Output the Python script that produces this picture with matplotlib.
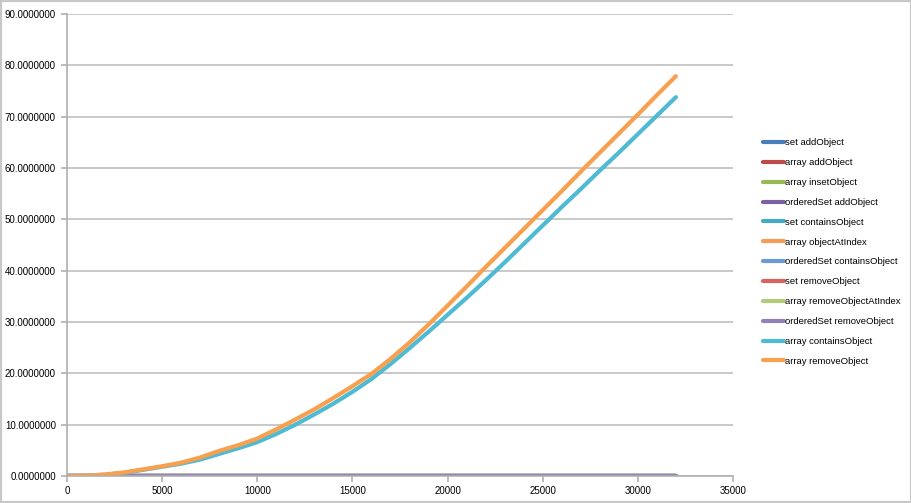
import matplotlib.pyplot as plt
from matplotlib.patches import Rectangle
from matplotlib.ticker import FormatStrFormatter

plt.rcParams['font.family'] = ['Liberation Sans', 'DejaVu Sans']

# element counts (x axis)
sizes = [0, 1000, 2000, 3000, 4000, 5000, 6000, 7000, 8000, 9000, 10000,
         11000, 12000, 13000, 14000, 15000, 16000, 17000, 18000, 19000, 20000,
         21000, 22000, 23000, 24000, 25000, 26000, 27000, 28000, 29000, 30000,
         31000, 32000]

# timings; everything except the last two stays at ~0
set_add = [0.00, 0.00, 0.00, 0.00, 0.00, 0.00, 0.00, 0.00, 0.00, 0.00, 0.00, 0.00, 0.00, 0.00, 0.00, 0.00, 0.00, 0.00, 0.00, 0.00, 0.00, 0.00, 0.00, 0.00, 0.00, 0.00, 0.00, 0.00, 0.00, 0.00, 0.00, 0.00, 0.00]
array_add = [0.00, 0.00, 0.00, 0.00, 0.00, 0.00, 0.00, 0.00, 0.00, 0.00, 0.00, 0.00, 0.00, 0.00, 0.00, 0.00, 0.00, 0.00, 0.00, 0.00, 0.00, 0.00, 0.00, 0.00, 0.00, 0.00, 0.00, 0.00, 0.00, 0.00, 0.00, 0.00, 0.00]
array_insert = [0.00, 0.00, 0.00, 0.00, 0.00, 0.00, 0.00, 0.00, 0.00, 0.00, 0.00, 0.00, 0.00, 0.00, 0.00, 0.00, 0.00, 0.00, 0.00, 0.00, 0.00, 0.00, 0.00, 0.00, 0.00, 0.00, 0.00, 0.00, 0.00, 0.00, 0.00, 0.00, 0.00]
oset_add = [0.00, 0.00, 0.00, 0.00, 0.00, 0.00, 0.00, 0.00, 0.00, 0.00, 0.00, 0.00, 0.00, 0.00, 0.00, 0.00, 0.00, 0.00, 0.00, 0.00, 0.00, 0.00, 0.00, 0.00, 0.00, 0.00, 0.00, 0.00, 0.00, 0.00, 0.00, 0.00, 0.00]
set_contains = [0.00, 0.00, 0.00, 0.00, 0.00, 0.00, 0.00, 0.00, 0.00, 0.00, 0.00, 0.00, 0.00, 0.00, 0.00, 0.00, 0.00, 0.00, 0.00, 0.00, 0.00, 0.00, 0.00, 0.00, 0.00, 0.00, 0.00, 0.00, 0.00, 0.00, 0.00, 0.00, 0.00]
array_at_index = [0.00, 0.00, 0.00, 0.00, 0.00, 0.00, 0.00, 0.00, 0.00, 0.00, 0.00, 0.00, 0.00, 0.00, 0.00, 0.00, 0.00, 0.00, 0.00, 0.00, 0.00, 0.00, 0.00, 0.00, 0.00, 0.00, 0.00, 0.00, 0.00, 0.00, 0.00, 0.00, 0.00]
oset_contains = [0.00, 0.00, 0.00, 0.00, 0.00, 0.00, 0.00, 0.00, 0.00, 0.00, 0.00, 0.00, 0.00, 0.00, 0.00, 0.00, 0.00, 0.00, 0.00, 0.00, 0.00, 0.00, 0.00, 0.00, 0.00, 0.00, 0.00, 0.00, 0.00, 0.00, 0.00, 0.00, 0.00]
set_remove = [0.00, 0.00, 0.00, 0.00, 0.00, 0.00, 0.00, 0.00, 0.00, 0.00, 0.00, 0.00, 0.00, 0.00, 0.00, 0.00, 0.00, 0.00, 0.00, 0.00, 0.00, 0.00, 0.00, 0.00, 0.00, 0.00, 0.00, 0.00, 0.00, 0.00, 0.00, 0.00, 0.00]
array_remove_at = [0.00, 0.00, 0.00, 0.00, 0.00, 0.00, 0.00, 0.00, 0.00, 0.00, 0.00, 0.00, 0.00, 0.00, 0.00, 0.00, 0.00, 0.00, 0.00, 0.00, 0.00, 0.00, 0.00, 0.00, 0.00, 0.00, 0.00, 0.00, 0.00, 0.00, 0.00, 0.00, 0.00]
oset_remove = [0.00, 0.00, 0.00, 0.00, 0.00, 0.00, 0.00, 0.00, 0.00, 0.00, 0.00, 0.00, 0.00, 0.00, 0.00, 0.00, 0.00, 0.00, 0.00, 0.00, 0.00, 0.00, 0.00, 0.00, 0.00, 0.00, 0.00, 0.00, 0.00, 0.00, 0.00, 0.00, 0.00]
array_contains = [0.0, 0.03, 0.25, 0.6, 1.2, 1.8, 2.4, 3.2, 4.3, 5.4, 6.6,
                  8.2, 10.0, 12.0, 14.1, 16.4, 18.9, 21.8, 24.9, 28.1, 31.4,
                  34.7, 38.1, 41.6, 45.2, 48.8, 52.4, 55.9, 59.5, 63.0, 66.6,
                  70.2, 73.8]
array_remove = [0.0, 0.05, 0.3, 0.7, 1.3, 1.9, 2.6, 3.6, 4.9, 6.0, 7.3,
                9.1, 11.0, 13.0, 15.2, 17.5, 19.9, 22.8, 26.0, 29.5, 33.2,
                36.9, 40.7, 44.4, 48.1, 51.8, 55.5, 59.3, 63.0, 66.7, 70.4,
                74.2, 77.9]

labels = ["set addObject", "array addObject", "array insetObject",
          "orderedSet addObject", "set containsObject", "array objectAtIndex",
          "orderedSet containsObject", "set removeObject",
          "array removeObjectAtIndex", "orderedSet removeObject",
          "array containsObject", "array removeObject"]
series = [set_add, array_add, array_insert, oset_add, set_contains,
          array_at_index, oset_contains, set_remove, array_remove_at,
          oset_remove, array_contains, array_remove]
colors = ["#4A7EBB", "#BE4B48", "#98B954", "#7D60A0", "#46AAC5", "#F59D56",
          "#6A9BD6", "#D9625F", "#B0CD7A", "#9280B8", "#4FBAD3", "#F9A04E"]

fig = plt.figure(figsize=(9.12, 5.03), dpi=100)
ax = fig.add_axes([67 / 912, 27 / 503, 666 / 912, 462 / 503])

for vals, lab, col in zip(series, labels, colors):
    ax.plot(sizes, vals, color=col, lw=3, label=lab, solid_capstyle='round')

ax.set_xlim(0, 35000)
ax.set_ylim(0, 90)
ax.set_xticks(range(0, 35001, 5000))
ax.set_yticks(range(0, 91, 10))
ax.yaxis.set_major_formatter(FormatStrFormatter('%.7f'))
ax.grid(axis='y', color='#C4C4C4', lw=1.3)
ax.set_axisbelow(True)
for s in ['top', 'right']:
    ax.spines[s].set_visible(False)
for s in ['left', 'bottom']:
    ax.spines[s].set_color('#B0B0B0')
    ax.spines[s].set_linewidth(1.2)
ax.tick_params(colors='#B0B0B0', labelcolor='black', labelsize=7,
               length=4, width=1.2)
ax.tick_params(axis='y', pad=4)

fig.legend(loc='center left', bbox_to_anchor=(759 / 912, 1 - 252 / 503),
           frameon=False, fontsize=6.8, labelspacing=1.15, handlelength=2.3,
           handletextpad=0.1, borderaxespad=0)

fig.patches.append(Rectangle((0, 0), 1, 1, transform=fig.transFigure,
                             fill=False, edgecolor='#C8C8C8', lw=3))

fig.savefig('out.png', dpi=100)
